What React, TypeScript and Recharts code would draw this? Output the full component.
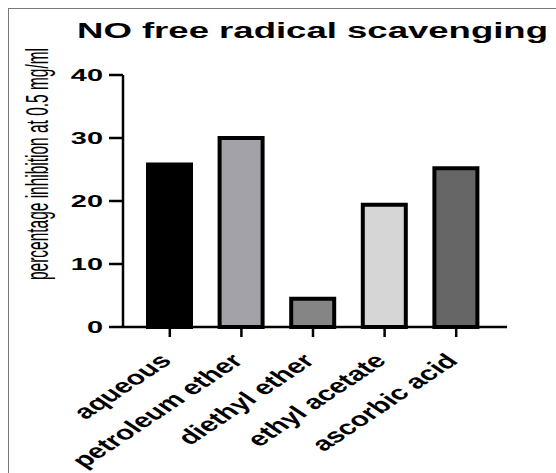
import { BarChart, Bar, Cell, XAxis, YAxis } from 'recharts';

// extracts and inhibition (%) at 0.5 mg/ml
const CATEGORIES = ['aqueous', 'petroleum ether', 'diethyl ether', 'ethyl acetate', 'ascorbic acid'];
const INHIBITION = [25.8, 30.0, 4.5, 19.4, 25.2];
const FILLS = ['#000000', '#a2a2a8', '#858585', '#d6d6d6', '#666666'];
const Y_TICKS = [0, 10, 20, 30, 40];

const TITLE = 'NO free radical scavenging';
const Y_LABEL = 'percentage inhibition at 0.5 mg/ml';

const FONT = '"Liberation Sans", Arial, sans-serif';

const data = CATEGORIES.map((name, i) => ({ name, value: INHIBITION[i] }));

// the source figure is stretched horizontally, so text gets a scaleX
const XTick = ({ x, y, payload }: any) => (
  <g transform={`translate(${x + 3},${y + 23}) scale(1.5,1) rotate(-45)`}>
    <text textAnchor="end" fontSize={20} fontWeight="bold" fill="#000" fontFamily={FONT}>
      {payload.value}
    </text>
  </g>
);

const YTick = ({ x, y, payload }: any) => (
  <g transform={`translate(${x - 4},${y}) scale(1.7,1)`}>
    <text textAnchor="end" dy="0.36em" fontSize={17} fontWeight="bold" fill="#000" fontFamily={FONT}>
      {payload.value}
    </text>
  </g>
);

export default function App() {
  return (
    <div style={{ position: 'absolute', left: 0, top: 0, width: 556, height: 473, background: '#fff', overflow: 'hidden' }}>
      {/* image frame */}
      <div style={{ position: 'absolute', left: 8, top: 8, width: 560, height: 480, borderTop: '1.5px solid #7a7a7a', borderLeft: '1.5px solid #7a7a7a' }} />
      <BarChart
        width={556}
        height={473}
        data={data}
        margin={{ top: 75, right: 49, bottom: 6, left: 63 }}
        style={{ position: 'absolute', left: 0, top: 0 }}
      >
        <XAxis
          dataKey="name"
          interval={0}
          height={140}
          padding={{ left: 11, right: 15 }}
          axisLine={{ stroke: '#000', strokeWidth: 2.5 }}
          tickLine={{ stroke: '#000', strokeWidth: 2.5 }}
          tickSize={10}
          tick={<XTick />}
        />
        <YAxis
          domain={[0, 40]}
          ticks={Y_TICKS}
          width={60}
          axisLine={{ stroke: '#000', strokeWidth: 2.5 }}
          tickLine={{ stroke: '#000', strokeWidth: 2.5 }}
          tickSize={14}
          tick={<YTick />}
        />
        <Bar dataKey="value" barSize={43} stroke="#000" strokeWidth={4} isAnimationActive={false}>
          {data.map((d, i) => (
            <Cell key={d.name} fill={FILLS[i]} />
          ))}
        </Bar>
      </BarChart>
      <svg width={556} height={473} style={{ position: 'absolute', left: 0, top: 0, pointerEvents: 'none' }}>
        <text x={77} y={38} fontSize={22} fontWeight="bold" fill="#000" fontFamily={FONT}
          textLength={471} lengthAdjust="spacingAndGlyphs">
          {TITLE}
        </text>
        {/* narrow, tall axis title: squeeze along the text, widen across */}
        <g transform="translate(48,164) scale(1.4,0.703) rotate(-90)">
          <text textAnchor="middle" fontSize={22} fill="#000" fontFamily={FONT}>
            {Y_LABEL}
          </text>
        </g>
      </svg>
    </div>
  );
}
